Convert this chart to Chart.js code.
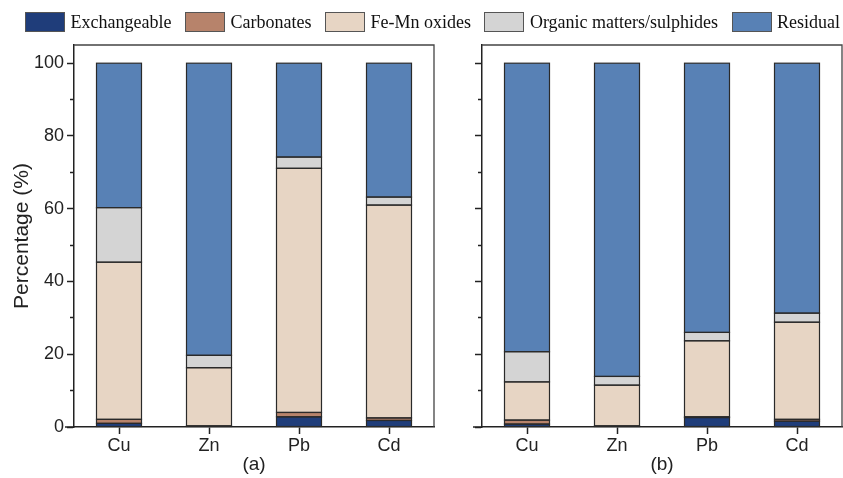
<!DOCTYPE html>
<html>
<head>
<meta charset="utf-8">
<script src="https://cdn.jsdelivr.net/npm/chart.js"></script>
<style>
  body { margin: 0; background: #fff; }
  #wrap { position: relative; width: 843px; height: 478px; overflow: hidden; }
  #legend { position: absolute; left: 25px; top: 12px; height: 20px; display: flex; align-items: center;
            font-family: "Liberation Serif"; font-size: 18px; color: #111; white-space: nowrap; }
  .item { display: flex; align-items: center; margin-right: 13.5px; }
  .box { width: 40px; height: 20px; box-sizing: border-box; border: 1px solid #555; margin-right: 5.5px; }
  #ca { position: absolute; left: 0; top: 0; }
  #cb { position: absolute; left: 440px; top: 0; }
</style>
</head>
<body>
<div id="wrap">
  <canvas id="ca" width="440" height="478"></canvas>
  <canvas id="cb" width="403" height="478"></canvas>
  <div id="legend"></div>
</div>
<script>
  const metals = ['Cu', 'Zn', 'Pb', 'Cd'];
  const fractions = ['Exchangeable', 'Carbonates', 'Fe-Mn oxides', 'Organic matters/sulphides', 'Residual'];
  const colors = ['#1f3d7a', '#b7836b', '#e7d5c4', '#d4d4d4', '#5881b5'];

  // panel (a)
  const exchA = [1.0, 0.2, 2.8, 1.8];
  const carbA = [1.1, 0.1, 1.2, 0.7];
  const femnA = [43.2, 16.0, 67.1, 58.5];
  const orgA  = [15.0, 3.4, 3.1, 2.2];
  const resA  = [39.7, 80.3, 25.8, 36.8];

  // panel (b)
  const exchB = [0.8, 0.2, 2.6, 1.6];
  const carbB = [1.1, 0.1, 0.2, 0.5];
  const femnB = [10.5, 11.2, 20.9, 26.7];
  const orgB  = [8.3, 2.4, 2.3, 2.5];
  const resB  = [79.3, 86.1, 74.0, 68.7];

  const majorTicks = [0, 20, 40, 60, 80, 100];
  const minorTicks = [10, 30, 50, 70, 90];

  // legend
  const legend = document.getElementById('legend');
  fractions.forEach((name, i) => {
    const item = document.createElement('div');
    item.className = 'item';
    item.innerHTML = '<span class="box" style="background:' + colors[i] + '"></span><span>' + name + '</span>';
    legend.appendChild(item);
  });

  // outline each bar segment with a centred stroke, the way the original is drawn
  const outlinePlugin = {
    id: 'outline',
    afterDatasetsDraw(chart) {
      const ctx = chart.ctx;
      ctx.save();
      ctx.strokeStyle = '#2a2a2a';
      ctx.lineWidth = 1.2;
      chart.data.datasets.forEach((ds, i) => {
        chart.getDatasetMeta(i).data.forEach(bar => {
          const { x, y, base, width } = bar.getProps(['x', 'y', 'base', 'width'], true);
          ctx.strokeRect(x - width / 2, Math.min(y, base), width, Math.abs(base - y));
        });
      });
      ctx.restore();
    }
  };

  const framePlugin = {
    id: 'frame',
    afterDraw(chart) {
      const { ctx, chartArea: a } = chart;
      ctx.save();
      ctx.strokeStyle = '#444';
      ctx.lineWidth = 1.3;
      ctx.beginPath();
      ctx.moveTo(a.left, a.top);
      ctx.lineTo(a.right, a.top);
      ctx.lineTo(a.right, a.bottom);
      ctx.stroke();
      // bottom axis runs a little past the left axis
      ctx.strokeStyle = '#222';
      ctx.lineWidth = 1.5;
      ctx.beginPath();
      ctx.moveTo(a.left - 9, a.bottom);
      ctx.lineTo(a.left, a.bottom);
      ctx.stroke();
      ctx.restore();
    }
  };

  const tickFont = { family: 'Liberation Sans', size: 18 };

  function makeChart(id, sets, yWidth, showLabels, xTitle, padRight) {
    return new Chart(document.getElementById(id), {
      type: 'bar',
      data: {
        labels: metals,
        datasets: sets.map((d, i) => ({
          label: fractions[i],
          data: d,
          yAxisID: 'y',
          backgroundColor: colors[i],
          borderWidth: 0,
          barPercentage: 0.5,
          categoryPercentage: 1
        }))
      },
      options: {
        responsive: false,
        animation: false,
        layout: { padding: { top: 45, right: padRight, left: 0, bottom: 0 } },
        plugins: { legend: { display: false }, tooltip: { enabled: false } },
        scales: {
          x: {
            stacked: true,
            grid: { offset: false, drawOnChartArea: false, tickLength: 7, tickWidth: 1.5, tickColor: '#222' },
            border: { color: '#222', width: 1.5 },
            ticks: { font: tickFont, color: '#222', padding: 1 },
            title: { display: true, text: xTitle, font: { family: 'Liberation Sans', size: 19 }, color: '#222',
                     padding: { top: 0, bottom: 2 } },
            afterFit: s => { s.height = 51; }
          },
          y: {
            stacked: true,
            min: 0, max: 105,
            weight: 1,
            grid: { drawOnChartArea: false, tickLength: 7, tickWidth: 1.5, tickColor: '#222' },
            border: { color: '#222', width: 1.5 },
            afterBuildTicks: s => { s.ticks = majorTicks.map(v => ({ value: v })); },
            ticks: { font: tickFont, color: '#222', padding: 3,
                     callback: v => showLabels ? String(v) : '' },
            title: { display: showLabels, text: 'Percentage (%)', font: { family: 'Liberation Sans', size: 21 },
                     color: '#222', padding: { top: 10, bottom: 0 } },
            afterFit: s => { s.width = yWidth; }
          },
          yMinor: {
            position: 'left',
            min: 0, max: 105,
            weight: 0,
            grid: { drawOnChartArea: false, tickLength: 4, tickWidth: 1.5, tickColor: '#222' },
            border: { display: false },
            afterBuildTicks: s => { s.ticks = minorTicks.map(v => ({ value: v })); },
            ticks: { callback: () => '' },
            afterFit: s => { s.width = 0; }
          }
        }
      },
      plugins: [outlinePlugin, framePlugin]
    });
  }

  makeChart('ca', [exchA, carbA, femnA, orgA, resA], 74, true, '(a)', 6);
  makeChart('cb', [exchB, carbB, femnB, orgB, resB], 42, false, '(b)', 1);
</script>
</body>
</html>
